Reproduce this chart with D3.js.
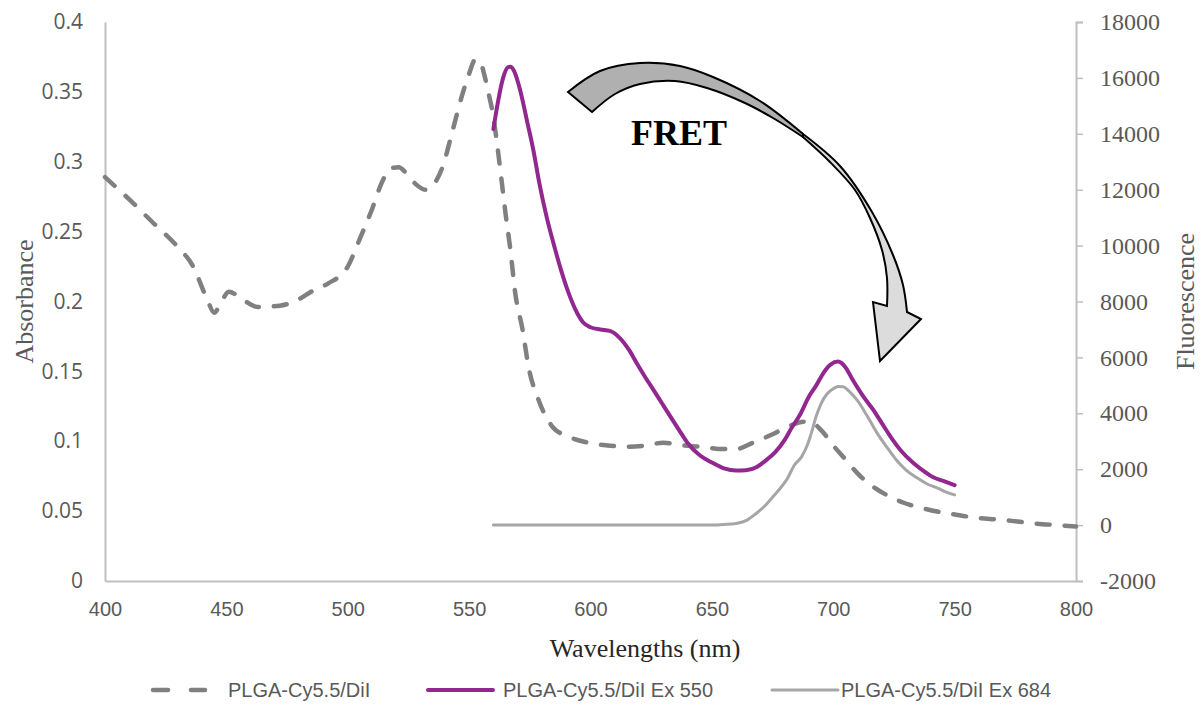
<!DOCTYPE html>
<html>
<head>
<meta charset="utf-8">
<script src="https://cdn.jsdelivr.net/npm/d3@7/dist/d3.min.js"></script>
<style>
  html, body { margin: 0; padding: 0; background: #ffffff; }
  svg { display: block; }
</style>
</head>
<body>
<svg id="chart" width="1203" height="709"></svg>
<script>
// ---------------- DATA ----------------
const xTicks = [400, 450, 500, 550, 600, 650, 700, 750, 800];
const leftTicks = [0, 0.05, 0.1, 0.15, 0.2, 0.25, 0.3, 0.35, 0.4];
const leftTickLabels = ["0", "0.05", "0.1", "0.15", "0.2", "0.25", "0.3", "0.35", "0.4"];
const rightTicks = [-2000, 0, 2000, 4000, 6000, 8000, 10000, 12000, 14000, 16000, 18000];

// PLGA-Cy5.5/DiI absorbance (left axis)
const absWl  = [400,410,420,430,436,442,445,448,451,457,463,472,478,486,492,500,505,510,514,518,521,524,528,532,535,539,543,547,550,552.5,554.5,556,558,560,561.5,563,565,567,569,572,574.5,578.5,584.5,590,599,607,615,623,630,638,646,653,660,667,675,682,688,691,695,700,705,710,716,722,729,737,745,752,760,768,776,784,792,800];
const absVal = [0.289,0.273,0.256,0.239,0.226,0.202,0.192,0.200,0.207,0.201,0.196,0.197,0.200,0.208,0.213,0.225,0.245,0.266,0.285,0.2955,0.296,0.292,0.284,0.280,0.283,0.296,0.321,0.347,0.363,0.373,0.372,0.364,0.349,0.332,0.313,0.292,0.263,0.237,0.206,0.180,0.153,0.130,0.110,0.104,0.099,0.097,0.096,0.097,0.099,0.097,0.096,0.0945,0.0945,0.099,0.105,0.111,0.114,0.1135,0.108,0.097,0.087,0.077,0.068,0.0615,0.056,0.052,0.049,0.047,0.045,0.044,0.0425,0.041,0.040,0.039];

// PLGA-Cy5.5/DiI Ex 550 fluorescence (right axis)
const ex550Wl  = [560,562,564,566,567,568.5,571,574,576.5,579,582,585,587.5,591,594.5,597,600,604,608,612,616,619,622.5,626,629.5,633,636.5,640,645,650,655,660,664,668.5,672,676,680,683,686,690,693,696,699,702,705,708,712,716.5,720,724.5,728,733,737,741,745,750];
const ex550Val = [14170,15200,16000,16380,16400,16250,15570,14400,13400,12200,11000,10000,9230,8300,7590,7250,7080,7000,6950,6700,6250,5800,5300,4830,4350,3870,3400,2940,2500,2240,2030,1950,1960,2080,2300,2600,3050,3500,3900,4600,5000,5450,5750,5850,5650,5200,4650,4120,3650,3050,2650,2220,1950,1720,1590,1430];

// PLGA-Cy5.5/DiI Ex 684 fluorescence (right axis)
const ex684Wl  = [560,580,600,620,640,650,655,660,664.5,668,672,675,678,681,684,687,689.5,691,693,695,697.5,700,702,704,707,710,714,718,722,726,730,734.5,738.5,743,746,750];
const ex684Val = [0,0,0,0,0,0,20,60,180,400,700,1000,1300,1650,2150,2450,2900,3300,3900,4350,4700,4880,4960,4950,4750,4450,3900,3300,2800,2330,1970,1690,1480,1320,1200,1080];

const seriesNames = ["PLGA-Cy5.5/DiI", "PLGA-Cy5.5/DiI Ex 550", "PLGA-Cy5.5/DiI Ex 684"];

// ---------------- CHART ----------------
const svg = d3.select("#chart");
const M = { left: 105, right: 1076, top: 22, bottom: 581 };

const x  = d3.scaleLinear().domain([400, 800]).range([M.left, M.right]);
const yL = d3.scaleLinear().domain([0, 0.4]).range([M.bottom, M.top]);
const yR = d3.scaleLinear().domain([-2000, 18000]).range([M.bottom, M.top]);

const axisColor = "#bfbfbf";
const labelColor = "#595959";
const sansLS = "'Liberation Sans', Arial, sans-serif";
const sans = "'Open Sans', 'Liberation Sans', sans-serif";
const serif = "'Liberation Serif', 'DejaVu Serif', serif";

// Left axis
const gL = svg.append("g").attr("transform", `translate(${M.left},0)`)
  .call(d3.axisLeft(yL).tickValues(leftTicks).tickSize(0).tickPadding(22)
    .tickFormat((d, i) => leftTickLabels[i]));
gL.select(".domain").attr("stroke", axisColor).attr("stroke-width", 2);
gL.selectAll("text").attr("fill", labelColor).style("font-family", sans).style("font-size", "21px");

// Right axis
const gR = svg.append("g").attr("transform", `translate(${M.right},0)`)
  .call(d3.axisRight(yR).tickValues(rightTicks).tickSize(7).tickPadding(17)
    .tickFormat(d => String(d)));
gR.select(".domain").attr("stroke", axisColor).attr("stroke-width", 2);
gR.selectAll(".tick line").attr("stroke", axisColor).attr("stroke-width", 1.5);
gR.selectAll("text").attr("fill", labelColor).style("font-family", serif).style("font-size", "24px");

// Bottom axis
const gB = svg.append("g").attr("transform", `translate(0,${M.bottom})`)
  .call(d3.axisBottom(x).tickValues(xTicks).tickSize(0).tickPadding(21).tickFormat(d => String(d)));
gB.select(".domain").attr("stroke", axisColor).attr("stroke-width", 2);
gB.selectAll("text").attr("fill", labelColor).style("font-family", sansLS).style("font-size", "20px");

// Axis titles
svg.append("text").attr("transform", `translate(33,${(M.top + M.bottom) / 2}) rotate(-90)`)
  .attr("text-anchor", "middle").attr("fill", labelColor)
  .style("font-family", serif).style("font-size", "26px").text("Absorbance");
svg.append("text").attr("transform", `translate(1194,${(M.top + M.bottom) / 2}) rotate(-90)`)
  .attr("text-anchor", "middle").attr("fill", labelColor)
  .style("font-family", serif).style("font-size", "26px").text("Fluorescence");
svg.append("text").attr("x", 645).attr("y", 657)
  .attr("text-anchor", "middle").attr("fill", "#262626")
  .style("font-family", serif).style("font-size", "26px").text("Wavelengths (nm)");

// Lines
const lineAbs = d3.line().x((d, i) => x(absWl[i])).y(d => yL(d)).curve(d3.curveMonotoneX);
const lineR = wl => d3.line().x((d, i) => x(wl[i])).y(d => yR(d)).curve(d3.curveMonotoneX);

svg.append("path").datum(ex684Val).attr("d", lineR(ex684Wl))
  .attr("fill", "none").attr("stroke", "#a6a6a6").attr("stroke-width", 3).attr("stroke-linecap", "round");

svg.append("path").datum(absVal).attr("d", lineAbs)
  .attr("fill", "none").attr("stroke", "#808080").attr("stroke-width", 4.5)
  .attr("stroke-linecap", "round").attr("stroke-dasharray", "13,15");

svg.append("path").datum(ex550Val).attr("d", lineR(ex550Wl))
  .attr("fill", "none").attr("stroke", "#92278f").attr("stroke-width", 4).attr("stroke-linecap", "round");

// FRET curved arrow (annotation)
const outerTail = [[568,92],[600,71],[640,63],[680,66],[713,77],[760,101],[803,134]];
const innerTail = [[592,112],[615,94],[640,84],[675,81],[707,88],[745,103],[773,118],[803,137]];
const outerHead = [[803,134],[840,166],[872,212],[893,255],[903,285],[907,312]];
const innerHead = [[803,137],[830,162],[855,190],[870,218],[882,250],[887,278],[887,306]];

const cr = d3.line().curve(d3.curveCatmullRom.alpha(0.5));
svg.append("path")
  .attr("d", cr(outerTail) + "L" + cr(innerTail.slice().reverse()).slice(1) + "Z")
  .attr("fill", "#b0b0b0").attr("stroke", "#000").attr("stroke-width", 2).attr("stroke-linejoin", "miter");
svg.append("path")
  .attr("d", cr(outerHead) + "L921,319L880,361L873,302L" + cr(innerHead.slice().reverse()).slice(1) + "Z")
  .attr("fill", "#dcdcdc").attr("stroke", "#000").attr("stroke-width", 2).attr("stroke-linejoin", "miter");

svg.append("text").attr("x", 631).attr("y", 145)
  .attr("fill", "#000").style("font-family", serif).style("font-weight", "bold").style("font-size", "36px")
  .text("FRET");

// Legend
const legY = 690;
const leg = svg.append("g");
leg.append("line").attr("x1", 153).attr("x2", 205).attr("y1", legY).attr("y2", legY)
  .attr("stroke", "#808080").attr("stroke-width", 4.5).attr("stroke-linecap", "round")
  .attr("stroke-dasharray", "15,23");
leg.append("line").attr("x1", 428).attr("x2", 493).attr("y1", legY).attr("y2", legY)
  .attr("stroke", "#92278f").attr("stroke-width", 4).attr("stroke-linecap", "round");
leg.append("line").attr("x1", 772).attr("x2", 838).attr("y1", legY).attr("y2", legY)
  .attr("stroke", "#a6a6a6").attr("stroke-width", 3).attr("stroke-linecap", "round");
const legX = [228, 503, 841];
seriesNames.forEach((n, i) => {
  leg.append("text").attr("x", legX[i]).attr("y", legY).attr("dy", "0.35em")
    .attr("fill", labelColor).style("font-family", sansLS).style("font-size", "20px").text(n);
});
</script>
</body>
</html>
